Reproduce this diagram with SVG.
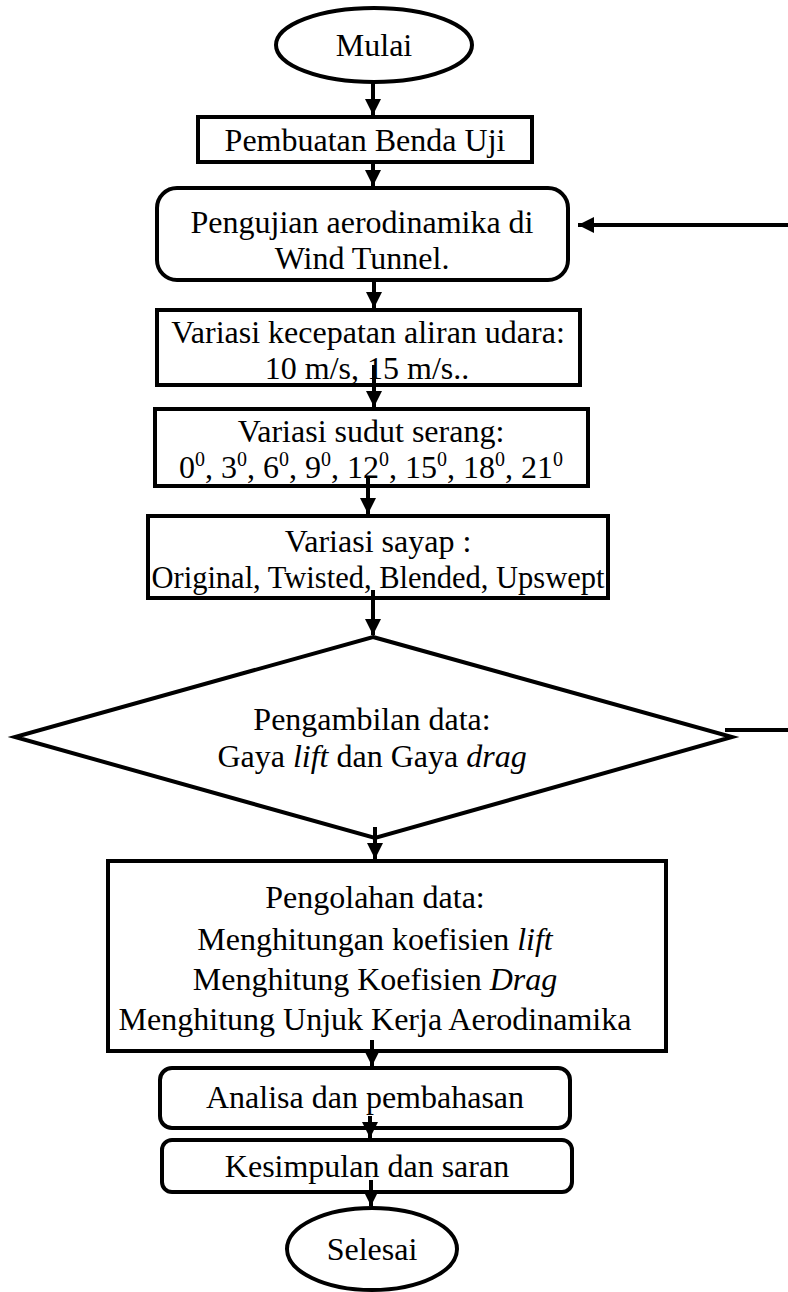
<svg xmlns="http://www.w3.org/2000/svg" width="788" height="1292" viewBox="0 0 788 1292">
<style>
.s{fill:#fff;stroke:#000;stroke-width:4}
.t{font-family:"Liberation Serif","Times New Roman",serif;font-size:32px;fill:#000;text-anchor:middle}
.i{font-style:italic}
.c{stroke:#000;stroke-width:4;fill:none}
.sup{font-size:20px}
</style>
<defs>
<marker id="a" viewBox="0 0 10 10" refX="10" refY="5" markerWidth="4" markerHeight="4" markerUnits="strokeWidth" orient="auto">
<path d="M0,0 L10,5 L0,10 Z" fill="#000"/>
</marker>
</defs>
<g id="mulai"><ellipse class="s" cx="374" cy="45" rx="98" ry="37"/><text class="t" x="374" y="56">Mulai</text></g>
<g id="pembuatan"><rect class="s" x="198" y="117" width="334" height="45"/><text class="t" x="365" y="151">Pembuatan Benda Uji</text></g>
<g id="pengujian"><rect class="s" x="157" y="188" width="411" height="92" rx="20"/><text class="t" x="362" y="233">Pengujian aerodinamika di</text><text class="t" x="362" y="269">Wind Tunnel.</text></g>
<g id="kecepatan"><rect class="s" x="157" y="310" width="423" height="75"/><text class="t" x="368" y="343">Variasi kecepatan aliran udara:</text><text class="t" x="367" y="379">10 m/s, 15 m/s..</text></g>
<g id="sudut"><rect class="s" x="155" y="409" width="433" height="77"/><text class="t" x="371" y="442">Variasi sudut serang:</text><text class="t" x="371" y="478">0<tspan class="sup" dy="-12">0</tspan><tspan dy="12">, 3</tspan><tspan class="sup" dy="-12">0</tspan><tspan dy="12">, 6</tspan><tspan class="sup" dy="-12">0</tspan><tspan dy="12">, 9</tspan><tspan class="sup" dy="-12">0</tspan><tspan dy="12">, 12</tspan><tspan class="sup" dy="-12">0</tspan><tspan dy="12">, 15</tspan><tspan class="sup" dy="-12">0</tspan><tspan dy="12">, 18</tspan><tspan class="sup" dy="-12">0</tspan><tspan dy="12">, 21</tspan><tspan class="sup" dy="-12">0</tspan></text></g>
<g id="sayap"><rect class="s" x="148" y="516" width="460" height="82"/><text class="t" x="378" y="552">Variasi sayap :</text><text class="t" x="378" y="588" style="font-size:30.5px">Original, Twisted, Blended, Upswept</text></g>
<g id="pengambilan"><polygon class="s" points="373,637 732,737 375,838 15,737"/><text class="t" x="372" y="730">Pengambilan data:</text><text class="t" x="372" y="767">Gaya <tspan class="i">lift</tspan> dan Gaya <tspan class="i">drag</tspan></text></g>
<g id="pengolahan"><rect class="s" x="108" y="861" width="558" height="190"/><text class="t" x="375" y="908">Pengolahan data:</text><text class="t" x="375" y="950">Menghitungan koefisien <tspan class="i">lift</tspan></text><text class="t" x="375" y="990">Menghitung Koefisien <tspan class="i">Drag</tspan></text><text class="t" x="375" y="1030">Menghitung Unjuk Kerja Aerodinamika</text></g>
<g id="analisa"><rect class="s" x="160" y="1068" width="410" height="60" rx="12"/><text class="t" x="365" y="1108">Analisa dan pembahasan</text></g>
<g id="kesimpulan"><rect class="s" x="162" y="1140" width="410" height="52" rx="10"/><text class="t" x="367" y="1177">Kesimpulan dan saran</text></g>
<g id="selesai"><ellipse class="s" cx="372" cy="1249" rx="85" ry="41"/><text class="t" x="372" y="1260">Selesai</text></g>
<g id="connectors">
<line class="c" x1="373" y1="82" x2="373" y2="115" marker-end="url(#a)"/>
<line class="c" x1="373" y1="162" x2="373" y2="186" marker-end="url(#a)"/>
<line class="c" x1="788" y1="225" x2="578" y2="225" marker-end="url(#a)"/>
<line class="c" x1="374" y1="280" x2="374" y2="308" marker-end="url(#a)"/>
<line class="c" x1="374" y1="365" x2="374" y2="407" marker-end="url(#a)"/>
<line class="c" x1="368" y1="478" x2="368" y2="514" marker-end="url(#a)"/>
<line class="c" x1="373" y1="590" x2="373" y2="635" marker-end="url(#a)"/>
<line class="c" x1="725" y1="730" x2="788" y2="730"/>
<line class="c" x1="375" y1="827" x2="375" y2="859" marker-end="url(#a)"/>
<line class="c" x1="372" y1="1040" x2="372" y2="1066" marker-end="url(#a)"/>
<line class="c" x1="370" y1="1116" x2="370" y2="1138" marker-end="url(#a)"/>
<line class="c" x1="371" y1="1180" x2="371" y2="1206" marker-end="url(#a)"/>
</g>
</svg>
